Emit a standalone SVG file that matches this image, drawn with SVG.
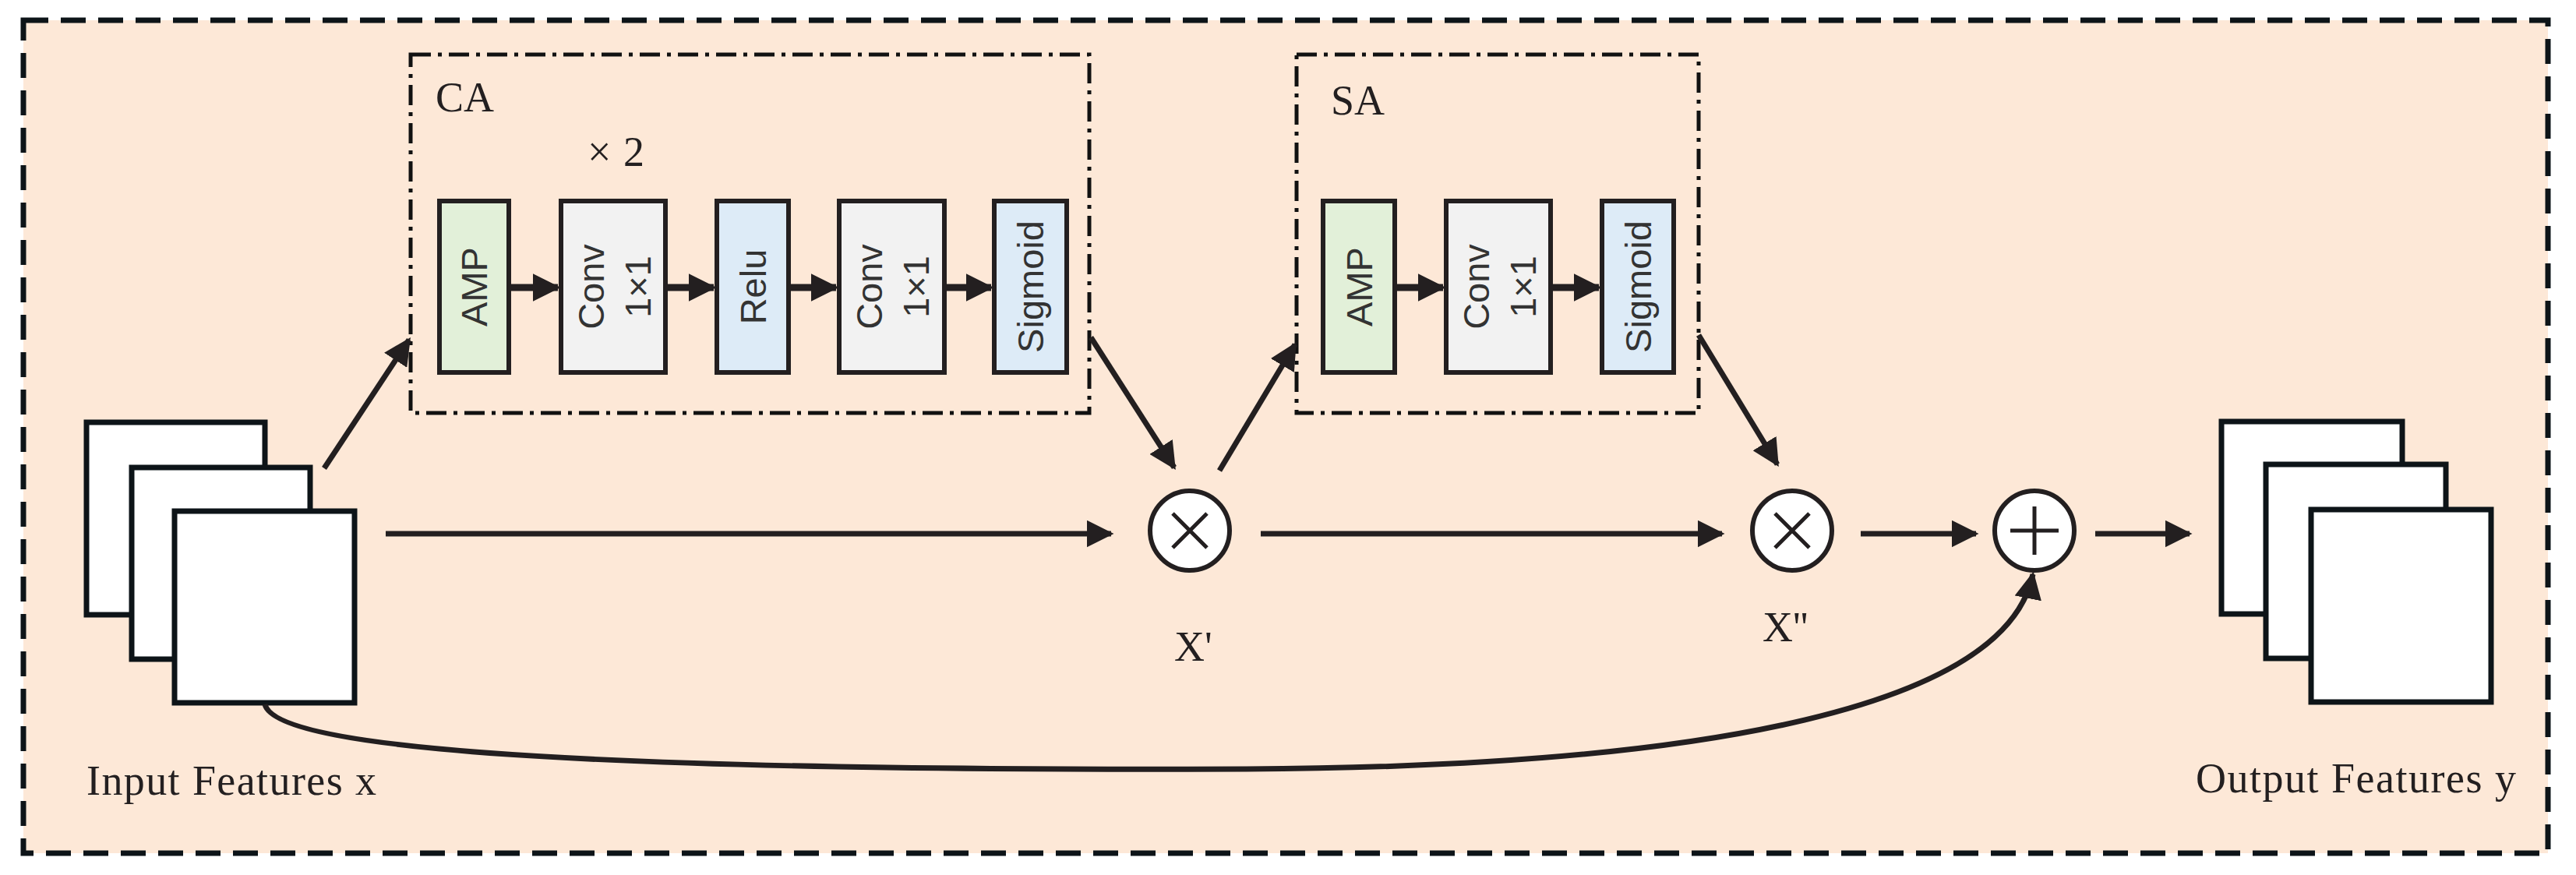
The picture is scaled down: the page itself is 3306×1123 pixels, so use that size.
<svg xmlns="http://www.w3.org/2000/svg" width="3306" height="1123" viewBox="0 0 3306 1123">
<defs>
<marker id="ah" markerWidth="5" markerHeight="5" refX="4.5" refY="2.5" orient="auto" markerUnits="strokeWidth"><path d="M0,0 L5,2.5 L0,5 z" fill="#231f20"/></marker>
<marker id="ahs" markerWidth="4" markerHeight="4" refX="3.6" refY="2" orient="auto" markerUnits="strokeWidth"><path d="M0,0 L4,2 L0,4 z" fill="#231f20"/></marker>
<style>
.t{font-family:"Liberation Serif",serif;font-size:54px;fill:#231f20}
.b{font-family:"Liberation Sans",Arial,sans-serif;font-size:47px;fill:#333}
.blk{stroke:#231f20;stroke-width:6}
.g{fill:#E2F0D9}.c{fill:#F2F2F2}.l{fill:#DDEBF7}
.box{fill:none;stroke:#111;stroke-width:5;stroke-dasharray:26 9 5 9}
.fm{fill:#fff;stroke:#0d1418;stroke-width:7}
.ar{fill:none;stroke:#231f20;stroke-width:7;marker-end:url(#ah)}
.as{fill:none;stroke:#231f20;stroke-width:9;marker-end:url(#ahs)}
.op{fill:#fff;stroke:#231f20;stroke-width:6}
</style>
</defs>
<rect x="30" y="26" width="3240" height="1069" fill="#FDE8D7" stroke="#0d1418" stroke-width="7" stroke-dasharray="32 16"/>
<g id="CA">
<rect class="box" x="527" y="70" width="871" height="460"/>
<text class="t" x="559" y="143">CA</text>
<text class="t" x="754" y="213" textLength="73">×2</text>
</g>
<g id="ca_amp"><rect class="blk g" x="564" y="258" width="89" height="220"/><text class="b" transform="translate(625,368) rotate(-90)" text-anchor="middle">AMP</text></g>
<g id="ca_conv1"><rect class="blk c" x="720" y="258" width="134" height="220"/><text class="b" transform="translate(775,368) rotate(-90)" text-anchor="middle">Conv</text><text class="b" transform="translate(835,368) rotate(-90)" text-anchor="middle">1×1</text></g>
<g id="ca_relu"><rect class="blk l" x="920" y="258" width="92" height="220"/><text class="b" transform="translate(983,368) rotate(-90)" text-anchor="middle">Relu</text></g>
<g id="ca_conv2"><rect class="blk c" x="1077" y="258" width="135" height="220"/><text class="b" transform="translate(1132,368) rotate(-90)" text-anchor="middle">Conv</text><text class="b" transform="translate(1192,368) rotate(-90)" text-anchor="middle">1×1</text></g>
<g id="ca_sig"><rect class="blk l" x="1276" y="258" width="93" height="220"/><text class="b" transform="translate(1339,368) rotate(-90)" text-anchor="middle">Sigmoid</text></g>
<g id="SA">
<rect class="box" x="1664" y="70" width="516" height="460"/>
<text class="t" x="1708" y="147">SA</text>
</g>
<g id="sa_amp"><rect class="blk g" x="1698" y="258" width="92" height="220"/><text class="b" transform="translate(1761,368) rotate(-90)" text-anchor="middle">AMP</text></g>
<g id="sa_conv"><rect class="blk c" x="1856" y="258" width="134" height="220"/><text class="b" transform="translate(1911,368) rotate(-90)" text-anchor="middle">Conv</text><text class="b" transform="translate(1971,368) rotate(-90)" text-anchor="middle">1×1</text></g>
<g id="sa_sig"><rect class="blk l" x="2056" y="258" width="92" height="220"/><text class="b" transform="translate(2119,368) rotate(-90)" text-anchor="middle">Sigmoid</text></g>
<g id="input">
<rect class="fm" x="111" y="542" width="229" height="247"/>
<rect class="fm" x="169" y="600" width="229" height="246"/>
<rect class="fm" x="224" y="656" width="231" height="246"/>
<text class="t" x="111" y="1020" textLength="372">Input Features x</text>
</g>
<g id="output">
<rect class="fm" x="2851" y="541" width="232" height="247"/>
<rect class="fm" x="2908" y="596" width="231" height="249"/>
<rect class="fm" x="2966" y="654" width="231" height="247"/>
<text class="t" x="2818" y="1017" textLength="411">Output Features y</text>
</g>
<g id="mul1"><circle class="op" cx="1527" cy="681" r="51"/><path d="M1505,659 L1549,703 M1549,659 L1505,703" stroke="#231f20" stroke-width="5"/><text class="t" x="1507" y="848">X'</text></g>
<g id="mul2"><circle class="op" cx="2300" cy="681" r="51"/><path d="M2278,659 L2322,703 M2322,659 L2278,703" stroke="#231f20" stroke-width="5"/><text class="t" x="2262" y="823">X''</text></g>
<g id="add"><circle class="op" cx="2611" cy="681" r="51"/><path d="M2611,650 V712 M2580,681 H2642" stroke="#231f20" stroke-width="5"/></g>
<g id="connectors">
<path class="as" d="M653,369 H716"/>
<path class="as" d="M854,369 H916"/>
<path class="as" d="M1012,369 H1073"/>
<path class="as" d="M1212,369 H1272"/>
<path class="as" d="M1790,369 H1852"/>
<path class="as" d="M1990,369 H2052"/>
<path class="ar" d="M416,601 L525,436"/>
<path class="ar" d="M1400,433 L1507,600"/>
<path class="ar" d="M1565,604 L1662,442"/>
<path class="ar" d="M2180,430 L2281,596"/>
<path class="ar" d="M495,685 H1426"/>
<path class="ar" d="M1618,685 H2210"/>
<path class="ar" d="M2388,685 H2536"/>
<path class="ar" d="M2689,685 H2810"/>
<path class="ar" d="M340,904 C355,965 800,990 1600,987 C2200,984 2575,905 2609,737"/>
</g>
</svg>
